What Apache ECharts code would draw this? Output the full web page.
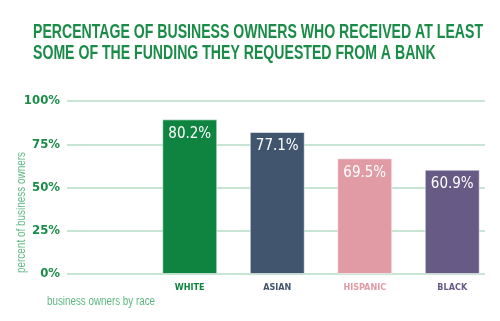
<!DOCTYPE html>
<html><head><meta charset="utf-8">
<script src="https://cdn.jsdelivr.net/npm/echarts@6/dist/echarts.min.js"></script>
<style>html,body{margin:0;padding:0;background:#fff}#c{width:500px;height:321px}</style>
</head><body><div id="c"></div>
<script>
const titleLines = ['PERCENTAGE OF BUSINESS OWNERS WHO RECEIVED AT LEAST', 'SOME OF THE FUNDING THEY REQUESTED FROM A BANK'];
const categories = ['WHITE', 'ASIAN', 'HISPANIC', 'BLACK'];
const barHeights = [89.4, 82.1, 66.9, 60.3];
const valueLabels = ['80.2%', '77.1%', '69.5%', '60.9%'];
const barColors = ['#0f8441', '#41566e', '#e09ba5', '#675a85'];
const yTicks = [0, 25, 50, 75, 100];
const yAxisName = 'percent of business owners';
const xAxisName = 'business owners by race';

const FAM = '"DejaVu Sans", sans-serif';
const ctx = document.createElement('canvas').getContext('2d');
function textW(t, font) { ctx.font = font; return ctx.measureText(t).width; }

const titleFont = 'bold 20px "Liberation Sans"';
const titleScale = 450 / textW(titleLines[0], titleFont);
const nameFont = '12px "Liberation Sans"';
const yNameScale = 121 / textW(yAxisName, nameFont);
const xNameScale = 108 / textW(xAxisName, nameFont);

const rich = {};
barColors.forEach((c, i) => { rich['c' + i] = { color: c, fontSize: 9, fontWeight: 'bold condensed', fontFamily: FAM }; });

const chart = echarts.init(document.getElementById('c'));
chart.setOption({
  animation: false,
  grid: [
    { left: 67, right: 15, top: 101, bottom: 47 },
    { left: 146, right: 4, top: 101, bottom: 47 }
  ],
  xAxis: [
    { gridIndex: 0, type: 'value', show: false, min: 0, max: 1 },
    { gridIndex: 1, type: 'category', data: categories,
      axisLine: { show: false }, axisTick: { show: false },
      axisLabel: { interval: 0, margin: 9, formatter: (v, i) => '{c' + i + '|' + v + '}', rich: rich } }
  ],
  yAxis: [
    { gridIndex: 0, type: 'value', min: yTicks[0], max: yTicks[yTicks.length - 1], interval: 25,
      axisLine: { show: false }, axisTick: { show: false },
      axisLabel: { formatter: '{value}%', color: '#1a8c48', fontSize: 13, fontWeight: 'bold condensed', fontFamily: FAM, margin: 7 },
      splitLine: { lineStyle: { color: '#b3dcc3', width: 1.5 } } },
    { gridIndex: 1, type: 'value', min: 0, max: 100, show: false }
  ],
  graphic: [
    { type: 'text', x: 33, y: 22, scaleX: titleScale,
      style: { text: titleLines.join('\n'), fill: '#1a8c48', font: titleFont, lineHeight: 21 } },
    { type: 'text', left: 16, top: 152, rotation: Math.PI / 2, scaleX: yNameScale,
      style: { text: yAxisName, fill: '#5cb880', font: nameFont } },
    { type: 'text', left: 47, top: 296, scaleX: xNameScale,
      style: { text: xAxisName, fill: '#5cb880', font: nameFont } }
  ],
  series: [{
    type: 'bar', xAxisIndex: 1, yAxisIndex: 1, barWidth: 55,
    data: barHeights.map((v, i) => ({ value: v, itemStyle: { color: barColors[i] } })),
    itemStyle: { borderColor: 'rgba(255,255,255,0.55)', borderWidth: 1 },
    label: { show: true, position: 'insideTop', distance: 7, color: '#fff', fontSize: 15, fontWeight: 'normal condensed', fontFamily: FAM,
      formatter: p => valueLabels[p.dataIndex] }
  }]
});
</script></body></html>
